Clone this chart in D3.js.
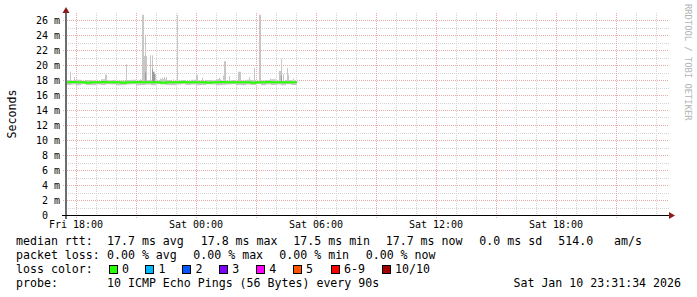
<!DOCTYPE html>
<html>
<head>
<meta charset="utf-8">
<script src="https://cdn.jsdelivr.net/npm/d3@7"></script>
<style>
body { margin: 0; background: #fff; }
text { font-family: "DejaVu Sans Mono", monospace; fill: #000; }
</style>
</head>
<body>
<script>
// median rtt (ms), one value every 15 min starting Fri 17:30
var medianRtt = [
	17.7, 17.75, 17.7, 17.7, 17.65, 17.7, 17.7, 17.75, 17.7, 17.7,
	17.7, 17.65, 17.7, 17.7, 17.75, 17.7, 17.7, 17.7, 17.7, 17.65,
	17.7, 17.7, 17.7, 17.75, 17.7, 17.7, 17.7, 17.7, 17.65, 17.7,
	17.7, 17.75, 17.7, 17.7, 17.7, 17.7, 17.7, 17.65, 17.7, 17.7,
	17.75, 17.7, 17.7, 17.7, 17.7, 17.7, 17.7
];
var smokeMin = [
	17.35, 17.4, 17.3, 17.45, 17.35, 17.3, 17.4, 17.35, 17.45, 17.4,
	17.3, 17.35, 17.4, 17.45, 17.3, 17.35, 17.4, 17.3, 17.45, 17.4,
	17.35, 17.3, 17.4, 17.45, 17.35, 17.4, 17.3, 17.35, 17.45, 17.4,
	17.3, 17.35, 17.4, 17.45, 17.35, 17.3, 17.4, 17.35, 17.45, 17.3,
	17.4, 17.35, 17.4, 17.3, 17.45, 17.35, 17.4
];
var smokeMax = [
	18.0, 17.95, 18.05, 17.9, 18.0, 17.95, 17.9, 18.1, 17.95, 18.0,
	17.9, 17.95, 18.0, 18.05, 17.9, 17.95, 18.0, 17.9, 17.95, 18.1,
	18.0, 17.9, 17.95, 18.0, 17.9, 18.05, 17.95, 17.9, 18.0, 17.95,
	18.1, 17.9, 17.95, 18.0, 17.9, 17.95, 18.05, 18.0, 17.9, 17.95,
	18.0, 18.1, 17.95, 17.9, 18.0, 17.95, 17.9
];
var dataEnd = 'Sat 05:03';

// single slow pings (smoke spikes), 3 min samples
var spikeTimes = [
	'Fri 17:42', 'Fri 17:54', 'Fri 19:27', 'Fri 19:30', 'Fri 20:30', 'Fri 21:12',
	'Fri 21:18', 'Fri 21:21', 'Fri 21:24', 'Fri 21:27', 'Fri 21:30', 'Fri 21:42',
	'Fri 21:48', 'Fri 21:54', 'Fri 21:57', 'Fri 22:12', 'Fri 22:18', 'Fri 22:24',
	'Fri 22:30', 'Fri 22:51', 'Fri 23:03', 'Sat 00:00', 'Sat 00:03', 'Sat 00:18',
	'Sat 01:09', 'Sat 01:21', 'Sat 01:24', 'Sat 01:27', 'Sat 01:39', 'Sat 02:06',
	'Sat 02:09', 'Sat 02:12', 'Sat 02:39', 'Sat 02:54', 'Sat 03:09', 'Sat 03:12',
	'Sat 03:42', 'Sat 04:09', 'Sat 04:12', 'Sat 04:15', 'Sat 04:21', 'Sat 04:33',
	'Sat 04:36', 'Sat 04:51'
];
var spikeMax = [
	19.1, 18.4, 18.7, 18.7, 20.1, 18.1,
	26.7, 26.7, 21.2, 24.0, 21.2, 21.3,
	21.3, 19.1, 18.8, 18.2, 18.3, 18.4,
	18.4, 18.1, 26.7, 18.7, 18.7, 18.3,
	18.3, 18.6, 20.5, 20.5, 18.5, 19.1,
	19.1, 19.1, 18.4, 19.6, 26.7, 26.7,
	18.2, 19.2, 19.2, 20.8, 18.8, 19.6,
	18.7, 18.2
];
var darkTimes = ['Fri 21:27', 'Fri 21:48', 'Fri 21:51', 'Fri 21:54', 'Sat 04:15'];
var darkMax = [19.0, 19.5, 19.1, 18.8, 18.6];

var yTicks = [0, 2, 4, 6, 8, 10, 12, 14, 16, 18, 20, 22, 24, 26];
var lossLabels = ['0', '1', '2', '3', '4', '5', '6-9', '10/10'];
var lossColours = ['#26ff00', '#00b8ff', '#0059ff', '#7e00ff', '#ff00ff', '#ff5500', '#ff0000', '#a10000'];
var rttStats = ['17.7 ms avg', '17.8 ms max', '17.5 ms min', '17.7 ms now', '0.0 ms sd', '514.0', 'am/s'];
var lossStats = ['0.00 % avg', '0.00 % max', '0.00 % min', '0.00 % now'];
var probeText = '10 ICMP Echo Pings (56 Bytes) every 90s';
var stampText = 'Sat Jan 10 23:31:34 2026';

var parseT = function(s) {
	var day = s.slice(0, 3) == 'Fri' ? 9 : 10;
	var hm = s.slice(4).split(':');
	return new Date(2026, 0, day, +hm[0], +hm[1]);
};

var svg = d3.select('body').append('svg')
	.attr('width', 697)
	.attr('height', 297);

var x = d3.scaleTime()
	.domain([new Date(2026, 0, 9, 17, 30), new Date(2026, 0, 10, 23, 39)])
	.range([66, 669]);
var y = d3.scaleLinear()
	.domain([0, 200 / 7.5])
	.range([215, 15]);

var plotTop = 13;
var crisp = function(v) { return Math.round(v) + 0.5; };

// grid
var grid = svg.append('g');
d3.range(1, 27).forEach(function(v) {
	var major = v % 2 == 0;
	grid.append('line')
		.attr('x1', major ? 63 : 66).attr('x2', 669)
		.attr('y1', crisp(y(v))).attr('y2', crisp(y(v)))
		.attr('stroke', major ? '#eba9a9' : '#d4d4d4')
		.attr('stroke-dasharray', '1,1');
});
d3.timeHour.range(x.domain()[0], x.domain()[1]).forEach(function(t) {
	var major = t.getHours() % 3 == 0;
	grid.append('line')
		.attr('x1', crisp(x(t))).attr('x2', crisp(x(t)))
		.attr('y1', plotTop).attr('y2', major ? 218 : 217)
		.attr('stroke', major ? '#eba9a9' : '#d4d4d4')
		.attr('stroke-dasharray', '1,1');
});

// smoke
var series = medianRtt.map(function(v, i) {
	return { t: d3.timeMinute.offset(x.domain()[0], i * 15), v: v, lo: smokeMin[i], hi: smokeMax[i] };
});
series.push({ t: parseT(dataEnd), v: medianRtt[medianRtt.length - 1], lo: smokeMin[smokeMin.length - 1], hi: smokeMax[smokeMax.length - 1] });

svg.append('path')
	.datum(series)
	.attr('fill', '#c6c6c6')
	.attr('d', d3.area()
		.x(function(d) { return x(d.t); })
		.y0(function(d) { return y(d.lo); })
		.y1(function(d) { return y(d.hi); })
		.curve(d3.curveStepAfter));

var drawSpikes = function(times, tops, colour) {
	svg.append('g').selectAll('rect')
		.data(times).enter()
		.append('rect')
		.attr('x', function(d) { return x(parseT(d)); })
		.attr('width', function(d) {
			var t = parseT(d);
			return x(d3.timeMinute.offset(t, 3)) - x(t);
		})
		.attr('y', function(d, i) { return y(tops[i]); })
		.attr('height', function(d, i) { return y(17.7) - y(tops[i]); })
		.attr('fill', colour);
};
drawSpikes(spikeTimes, spikeMax, '#c6c6c6');
drawSpikes(darkTimes, darkMax, '#9c9c9c');

// median line
svg.append('path')
	.datum(series)
	.attr('fill', 'none')
	.attr('stroke', lossColours[0])
	.attr('stroke-width', 2)
	.attr('d', d3.line()
		.x(function(d) { return x(d.t); })
		.y(function(d) { return y(d.v); })
		.curve(d3.curveStepAfter));

// axes
svg.append('line')
	.attr('x1', 66).attr('x2', 66)
	.attr('y1', 10).attr('y2', 219)
	.attr('stroke', '#6e6e6e')
	.attr('stroke-width', 2);
svg.append('line')
	.attr('x1', 62).attr('x2', 670)
	.attr('y1', 215.5).attr('y2', 215.5)
	.attr('stroke', '#000');
svg.append('path')
	.attr('d', 'M62.5,13L66,7L69.5,13Z')
	.attr('fill', '#8b1c1c');
svg.append('path')
	.attr('d', 'M669,212L675,215.5L669,219Z')
	.attr('fill', '#8b1c1c');

// y labels
svg.append('g').selectAll('text')
	.data(yTicks).enter()
	.append('text')
	.attr('x', function(d) { return d == 0 ? 60 - 2 * 6.02 : 60; })
	.attr('y', function(d) { return y(d) + 3.5; })
	.attr('text-anchor', 'end')
	.attr('font-size', '10px')
	.text(function(d) { return d == 0 ? '0' : d + ' m'; });

// x labels
var labelTimes = d3.timeHour.range(x.domain()[0], x.domain()[1]).filter(function(t) {
	return t.getHours() % 6 == 0;
});
svg.append('g').selectAll('text')
	.data(labelTimes).enter()
	.append('text')
	.attr('x', function(d) { return x(d); })
	.attr('y', 228)
	.attr('text-anchor', 'middle')
	.attr('font-size', '10px')
	.text(d3.timeFormat('%a %H:%M'));

svg.append('text')
	.attr('transform', 'translate(15.5,114) rotate(-90)')
	.attr('text-anchor', 'middle')
	.attr('font-size', '11.6px')
	.text('Seconds');

svg.append('text')
	.attr('transform', 'translate(684.5,4) rotate(90)')
	.attr('font-size', '8.8px')
	.style('fill', '#b4b4b4')
	.text('RRDTOOL / TOBI OETIKER');

// legend
var legend = svg.append('g').attr('font-size', '11.6px');
var legendRow = function(label, yPos) {
	legend.append('text').attr('x', 16).attr('y', yPos).attr('xml:space', 'preserve').text(label);
};
legendRow('median rtt:', 245);
legendRow('packet loss:', 259);
legendRow('loss color:', 273);
legendRow('probe:', 287);

var rttX = [107, 200.7, 293.3, 385.7, 479.3, 558.3, 614];
rttStats.forEach(function(s, i) {
	legend.append('text').attr('x', rttX[i]).attr('y', 245).text(s);
});
var lossX = [107, 193.3, 279.3, 365.7];
lossStats.forEach(function(s, i) {
	legend.append('text').attr('x', lossX[i]).attr('y', 259).text(s);
});
var boxX = [108.7, 145.3, 182.3, 219, 256, 292.7, 330.7, 381.7];
lossLabels.forEach(function(s, i) {
	legend.append('rect')
		.attr('x', Math.round(boxX[i]) + 0.5)
		.attr('y', 265.5)
		.attr('width', 8)
		.attr('height', 8)
		.attr('fill', lossColours[i])
		.attr('stroke', '#000');
	legend.append('text').attr('x', boxX[i] + 13.3).attr('y', 273).text(s);
});
legend.append('text').attr('x', 107).attr('y', 287).text(probeText);
legend.append('text').attr('x', 681).attr('y', 287).attr('text-anchor', 'end').text(stampText);
</script>
</body>
</html>
